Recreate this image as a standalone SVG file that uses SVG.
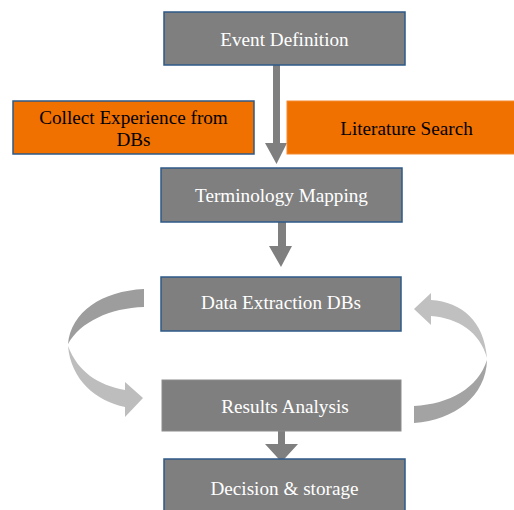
<svg xmlns="http://www.w3.org/2000/svg" width="514" height="510" viewBox="0 0 514 510">
  <style>
    .step { fill: #7f7f7f; stroke: #2e5a87; stroke-width: 1.5; }
    .step.plain { stroke: #8c8c8c; stroke-width: 1; }
    .src { fill: #f07000; stroke: #2e5a87; stroke-width: 1.5; }
    .src.plain { stroke: #f38a33; stroke-width: 1; }
    .lbl { font-family: "Liberation Serif", "Times New Roman", serif; font-size: 19.2px; text-anchor: middle; }
    .light { fill: #ffffff; }
    .dark { fill: #000000; }
    .flow { fill: #7f7f7f; }
  </style>
  <rect width="514" height="510" fill="#ffffff"/>

  <!-- connectors: straight block arrows and the two curved loop arrows -->
  <g id="connectors">
    <polygon class="flow" points="273,65 280,65 280,143 287,143 276.5,164 265,143 273,143"/>
    <polygon class="flow" points="278,222 286,222 286,246 292,246 281,267 269,246 278,246"/>
    <polygon class="flow" points="278,431 285,431 285,444 298,444 281.5,462 265,444 278,444"/>
    <!-- left loop: from Data Extraction down to Results Analysis -->
    <path fill="#9d9d9d" d="M144,289 C102,291 71,312 68,344 C80,322 110,308 144,307 Z"/>
    <path fill="#bdbdbd" d="M68,346 C71,380 96,401 125,407 L125,417 L143,398 L125,382 L125,390 C98,385 78,372 68,346 Z"/>
    <!-- right loop: from Results Analysis back up to Data Extraction -->
    <path fill="#c0c0c0" d="M487,358 C484,321 462,302 431,300 L431,293 L414,309 L431,325 L431,316 C458,318 480,332 487,358 Z"/>
    <path fill="#a3a3a3" d="M487,360 C486,396 455,420 414,423 L414,406 C450,404 478,388 487,360 Z"/>
  </g>

  <g id="event-definition">
    <rect class="step" x="164" y="12" width="241" height="53"/>
    <text class="lbl light" x="284.5" y="46">Event Definition</text>
  </g>

  <g id="collect-experience">
    <rect class="src" x="13" y="101" width="241" height="53"/>
    <text class="lbl dark" x="133.5" y="124">Collect Experience from</text>
    <text class="lbl dark" x="133.5" y="146">DBs</text>
  </g>

  <g id="literature-search">
    <rect class="src plain" x="287" y="101" width="240" height="53"/>
    <text class="lbl dark" x="406.5" y="135">Literature Search</text>
  </g>

  <g id="terminology-mapping">
    <rect class="step" x="161" y="168" width="241" height="54"/>
    <text class="lbl light" x="281.5" y="202">Terminology Mapping</text>
  </g>

  <g id="data-extraction">
    <rect class="step" x="161" y="277" width="240" height="54"/>
    <text class="lbl light" x="281" y="309">Data Extraction DBs</text>
  </g>

  <g id="results-analysis">
    <rect class="step plain" x="162" y="380" width="239" height="51"/>
    <text class="lbl light" x="285" y="413">Results Analysis</text>
  </g>

  <g id="decision-storage">
    <rect class="step" x="164" y="459" width="241" height="60"/>
    <text class="lbl light" x="284.5" y="495">Decision &amp; storage</text>
  </g>
</svg>
